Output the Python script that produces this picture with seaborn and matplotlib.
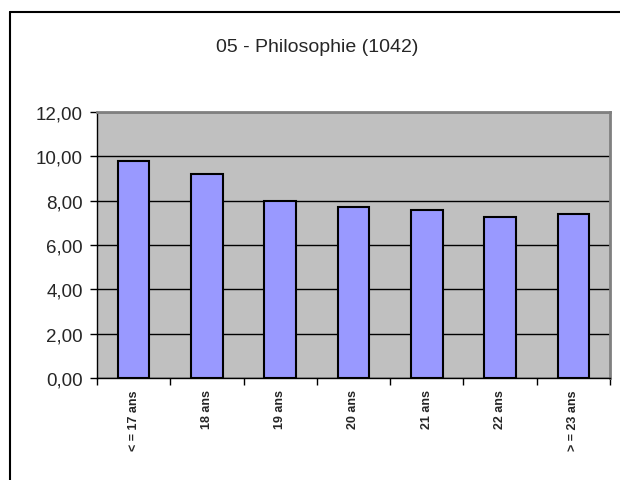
import matplotlib
matplotlib.use("Agg")
import matplotlib.pyplot as plt
import seaborn as sns
import pandas as pd

# data
categories = ["< = 17 ans", "18 ans", "19 ans", "20 ans", "21 ans", "22 ans", "> = 23 ans"]
values = [9.78, 9.19, 7.98, 7.72, 7.57, 7.27, 7.38]
title = "05 - Philosophie (1042)"
y_ticks = [0, 2, 4, 6, 8, 10, 12]

df = pd.DataFrame({"age": categories, "moyenne": values})

sns.set_style("white")
plt.rcParams["font.family"] = ["Liberation Sans", "DejaVu Sans"]

fig = plt.figure(figsize=(6.2, 4.81), dpi=100)
W, H = 620, 481
ax = fig.add_axes([97 / W, 1 - 379 / H, (610 - 97) / W, (379 - 113) / H])
ax.set_facecolor("#c0c0c0")

sns.barplot(data=df, x="age", y="moyenne", ax=ax, color="#9999ff",
            saturation=1, width=0.43, edgecolor="black", linewidth=1.5, zorder=3)

ax.set_ylim(0, 12)
ax.set_xlim(-0.5, len(categories) - 0.5)
ax.set_yticks(y_ticks)
ax.set_yticklabels([f"{v:.2f}".replace(".", ",") for v in y_ticks], fontsize=13.5)
ax.yaxis.grid(True, color="black", linewidth=1, zorder=1)
ax.set_axisbelow(True)

# ticks on category boundaries, labels centred
ax.set_xticks([i - 0.5 for i in range(len(categories) + 1)])
ax.set_xticklabels([])
ax.set_xticks(range(len(categories)), minor=True)
ax.set_xticklabels(categories, minor=True, rotation=90, fontsize=9,
                   va="top", ha="center", fontweight="bold")
ax.tick_params(axis="x", which="major", direction="out", length=5, width=1, color="black")
ax.tick_params(axis="x", which="minor", length=0, pad=8)
ax.tick_params(axis="y", direction="out", length=5, width=1, color="black", pad=5)
ax.tick_params(left=True, bottom=True)

ax.set_xlabel("")
ax.set_ylabel("")
for side in ["top", "right"]:
    ax.spines[side].set_color("#808080")
    ax.spines[side].set_linewidth(2)
for side in ["left", "bottom"]:
    ax.spines[side].set_color("black")
    ax.spines[side].set_linewidth(1)

fig.text(317 / W, 1 - 47 / H, title, ha="center", va="center", fontsize=14)

# outer chart frame (left and top edges visible)
fig.add_artist(plt.Line2D([10 / W, 10 / W], [0, 1 - 13 / H], color="black", lw=1.5,
                          transform=fig.transFigure))
fig.add_artist(plt.Line2D([10 / W, 1], [1 - 13 / H, 1 - 13 / H], color="black", lw=1.5,
                          transform=fig.transFigure))

fig.savefig("out.png", dpi=100)
